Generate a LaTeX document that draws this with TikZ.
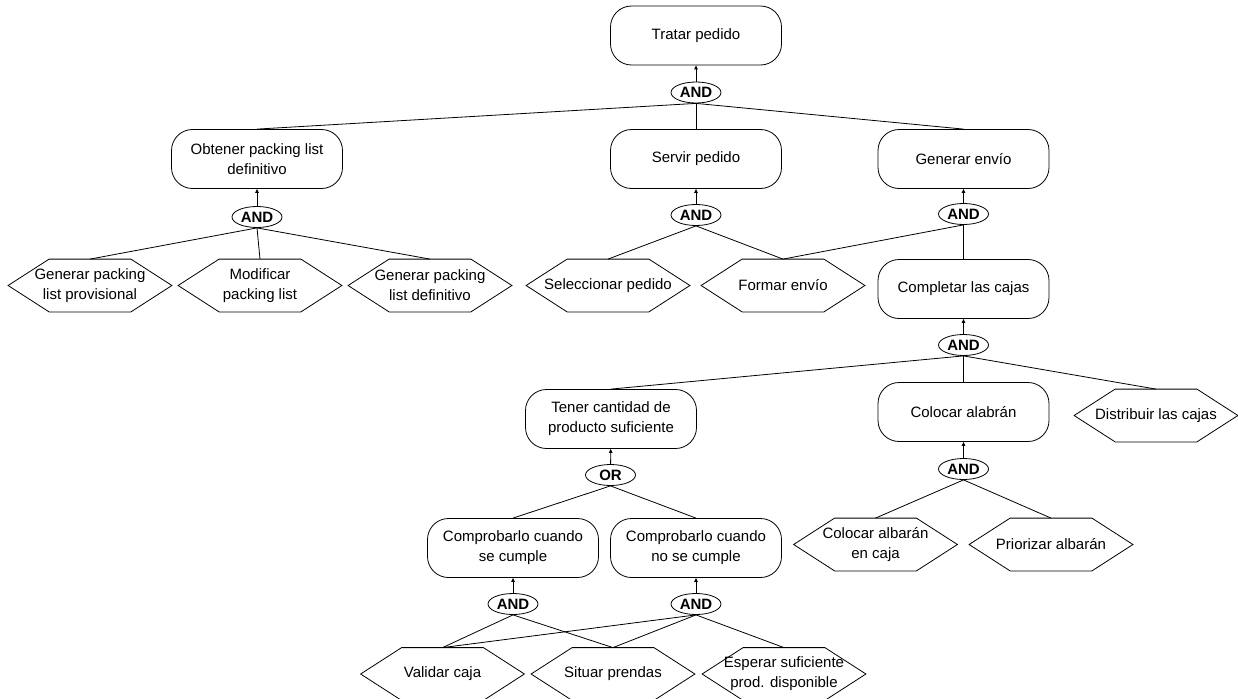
\documentclass[tikz,border=0pt]{standalone}
\usepackage{fontspec}
\setmainfont{Liberation Sans}
\usepackage{tikz}
\usetikzlibrary{arrows.meta, shapes.geometric}

\begin{document}
\begin{tikzpicture}[
    x=1pt, y=-1pt, line width=0.8pt,
    font=\fontsize{15pt}{20pt}\selectfont,
    goal/.style={rectangle, rounded corners=21pt, draw,
      minimum width=171pt, minimum height=59pt, inner sep=2pt, align=center},
    task/.style={rectangle, minimum width=163pt, minimum height=52pt,
      inner sep=0pt, align=center},
    op/.style={ellipse, draw, minimum width=50pt, minimum height=21pt,
      inner sep=0pt, font=\fontsize{15pt}{18pt}\selectfont\bfseries},
    up/.style={-{Triangle[length=4pt, width=3.5pt]}}
  ]
  \useasboundingbox (0,0) rectangle (1238,698);

  % goals
  \node[goal] (tratar) at (696,35.5) {Tratar pedido};
  \node[goal] (obtener) at (257,159) {Obtener packing list\\definitivo};
  \node[goal] (servir) at (696,159) {Servir pedido};
  \node[goal] (generar) at (963.5,159) {Generar envío};
  \node[goal] (completar) at (963.5,289) {Completar las cajas};
  \node[goal] (tener) at (611,419) {Tener cantidad de\\producto suficiente};
  \node[goal] (colocar) at (963.5,412) {Colocar alabrán};
  \node[goal] (comp1) at (513,548) {Comprobarlo cuando\\se cumple};
  \node[goal] (comp2) at (696,548) {Comprobarlo cuando\\no se cumple};

  % tasks
  \node[task] (gpp) at (90,285.5) {Generar packing\\list provisional};
  \node[task] (mod) at (260,285.5) {Modificar\\packing list};
  \node[task] (gpd) at (430,285.5) {Generar packing\\list definitivo};
  \node[task] (sel) at (608,285.5) {Seleccionar pedido};
  \node[task] (formar) at (783,285.5) {Formar envío};
  \node[task] (distribuir) at (1156,415.5) {Distribuir las cajas};
  \node[task] (colcaja) at (875.5,544.5) {Colocar albarán\\en caja};
  \node[task] (priorizar) at (1051,544.5) {Priorizar albarán};
  \node[task] (validar) at (442.5,674) {Validar caja};
  \node[task] (situar) at (613,674) {Situar prendas};
  \node[task] (esperar) at (784,674) {Esperar suficiente\\prod. disponible};

  \foreach \n in {gpp,mod,gpd,sel,formar,distribuir,colcaja,priorizar,validar,situar,esperar}
    \draw (\n.west) -- ([xshift=41pt]\n.north west) -- ([xshift=-41pt]\n.north east)
      -- (\n.east) -- ([xshift=-41pt]\n.south east) -- ([xshift=41pt]\n.south west) -- cycle;

  % decompositions
  \node[op] (andT) at (696,92.5) {AND};
  \node[op] (andO) at (257,217) {AND};
  \node[op] (andS) at (696,215) {AND};
  \node[op] (andG) at (963.5,214) {AND};
  \node[op] (andC) at (963.5,345) {AND};
  \node[op] (andCol) at (963.5,469) {AND};
  \node[op] (orT) at (610.5,475) {OR};
  \node[op] (and1) at (513,604) {AND};
  \node[op] (and2) at (696,604) {AND};

  \draw[up] (andT) -- (tratar);
  \draw[up] (andO) -- (obtener);
  \draw[up] (andS) -- (servir);
  \draw[up] (andG) -- (generar);
  \draw[up] (andC) -- (completar);
  \draw[up] (andCol) -- (colocar);
  \draw[up] (orT) -- (tener);
  \draw[up] (and1) -- (comp1);
  \draw[up] (and2) -- (comp2);

  \foreach \c in {obtener,servir,generar}
    \draw (andT.south) -- (\c.north);
  \foreach \c in {gpp,mod,gpd}
    \draw (andO.south) -- (\c.north);
  \foreach \c in {sel,formar}
    \draw (andS.south) -- (\c.north);
  \foreach \c in {formar,completar}
    \draw (andG.south) -- (\c.north);
  \foreach \c in {tener,colocar,distribuir}
    \draw (andC.south) -- (\c.north);
  \foreach \c in {colcaja,priorizar}
    \draw (andCol.south) -- (\c.north);
  \foreach \c in {comp1,comp2}
    \draw (orT.south) -- (\c.north);
  \foreach \c in {validar,situar}
    \draw (and1.south) -- (\c.north);
  \foreach \c in {validar,situar,esperar}
    \draw (and2.south) -- (\c.north);
\end{tikzpicture}
\end{document}
